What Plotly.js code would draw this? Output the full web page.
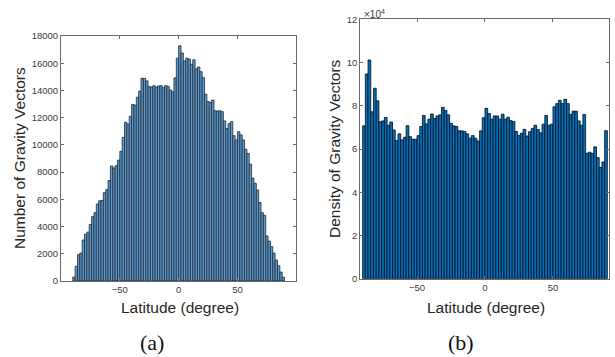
<!DOCTYPE html>
<html><head><meta charset="utf-8">
<script src="https://cdn.plot.ly/plotly-3.0.1.min.js"></script>
<style>html,body{margin:0;padding:0;background:#fff}#c{width:615px;height:357px}</style>
</head><body><div id="c"></div>
<script>
// Latitude bins: 2-degree bins from -90 to 90
const latMin = -90;
const binWidth = 2;
// (a) Number of gravity vectors per latitude bin
const countsA = [290,1080,1930,2050,3010,3440,3590,4150,4730,5020,
  5660,5890,5920,6490,6710,7380,8450,8300,8470,8880,
  9530,10550,11660,11530,12100,12970,12920,13500,13950,14900,
  14890,14700,14280,14260,14350,14240,14330,14350,14200,14350,
  14300,14040,13900,14920,16370,17280,16750,16170,16370,16310,
  15920,16250,15580,15720,15380,14940,13720,13180,13110,13290,
  12510,12490,12510,12440,11760,11200,11560,11710,10680,10360,
  10970,10730,10360,9680,9370,8590,7560,7180,6690,5770,
  5020,4820,3310,2930,2520,2050,1540,1120,660,270];
// (b) Density of gravity vectors (x10^4) per latitude bin
const densityE4 = [7.07,9.47,10.12,7.72,8.81,8.23,7.26,7.30,7.46,7.10,
  7.25,6.88,6.39,6.70,6.42,6.54,7.08,6.57,6.45,6.45,
  6.62,7.04,7.55,7.16,7.38,7.62,7.41,7.53,7.58,7.93,
  7.78,7.58,7.19,7.07,7.04,6.84,6.84,6.81,6.70,6.50,
  6.62,6.50,6.37,6.84,7.45,7.88,7.64,7.38,7.53,7.53,
  7.38,7.61,7.38,7.47,7.31,7.27,6.81,6.62,6.73,6.91,
  6.60,6.80,6.95,7.10,6.90,6.75,7.15,7.55,7.10,7.15,
  7.95,8.10,8.25,8.10,8.30,8.10,7.60,7.75,7.75,7.30,
  7.10,7.60,5.80,5.85,5.80,6.10,5.60,5.15,5.40,6.85];
const xTicks = [-50, 0, 50];
const yTicksA = [0,2000,4000,6000,8000,10000,12000,14000,16000,18000];
const yTicksB = [0,2,4,6,8,10,12];

const centers = countsA.map((_, i) => latMin + binWidth * (i + 0.5));

const W = 615, H = 357;
const sans = 'Liberation Sans, Arial, sans-serif';
const tickFont = {family: sans, size: 9.5, color: '#3a3a3a'};
const axisCommon = {
  showgrid: false, zeroline: false, showline: true, linecolor: '#6a6a6a', linewidth: 1,
  mirror: 'ticks', ticks: 'inside', ticklen: 3, tickcolor: '#6a6a6a', tickfont: tickFont,
  tickformat: 'd'
};

const traces = [
  {type: 'bar', x: centers, y: countsA, width: binWidth, xaxis: 'x', yaxis: 'y',
   marker: {color: 'rgb(96,158,208)', line: {color: 'rgb(28,38,52)', width: 0.8}}},
  {type: 'bar', x: centers, y: densityE4, width: binWidth, xaxis: 'x2', yaxis: 'y2',
   marker: {color: 'rgb(0,114,189)', line: {color: 'rgb(5,10,20)', width: 0.8}}}
];

function ann(text, x, y, opts) {
  return Object.assign({text: text, xref: 'paper', yref: 'paper', x: x / W, y: 1 - y / H,
    xanchor: 'center', yanchor: 'middle', showarrow: false,
    font: {family: sans, size: 15.5, color: '#262626'}}, opts || {});
}
const serif = {family: 'Liberation Serif, Times New Roman, serif', size: 22, color: '#111'};

const layout = {
  width: W, height: H, margin: {l: 0, r: 0, t: 0, b: 0},
  paper_bgcolor: '#fff', plot_bgcolor: '#fff', showlegend: false, bargap: 0,
  xaxis: Object.assign({}, axisCommon, {domain: [61/W, 296.3/W], range: [-100, 100],
    tickvals: xTicks, anchor: 'y'}),
  yaxis: Object.assign({}, axisCommon, {domain: [1-281/H, 1-36/H], range: [0, 18000],
    tickvals: yTicksA, anchor: 'x'}),
  xaxis2: Object.assign({}, axisCommon, {domain: [360.3/W, 609/W], range: [-91.7, 91.2],
    tickvals: xTicks, anchor: 'y2'}),
  yaxis2: Object.assign({}, axisCommon, {domain: [1-278.7/H, 1-19.3/H], range: [0, 12],
    tickvals: yTicksB, anchor: 'x2'}),
  annotations: [
    ann('Latitude (degree)', 179.5, 307),
    ann('Latitude (degree)', 485.5, 307),
    ann('Number of Gravity Vectors', 19, 158, {textangle: -90}),
    ann('Density of Gravity Vectors', 334, 149, {textangle: -90}),
    ann('×10<sup>4</sup>', 362, 14, {xanchor: 'left', font: {family: sans, size: 10, color: '#3a3a3a'}}),
    ann('(a)', 152, 342, {font: serif}),
    ann('(b)', 460.5, 342, {font: serif})
  ]
};

Plotly.newPlot('c', traces, layout, {staticPlot: true, displayModeBar: false});
</script>
</body></html>
